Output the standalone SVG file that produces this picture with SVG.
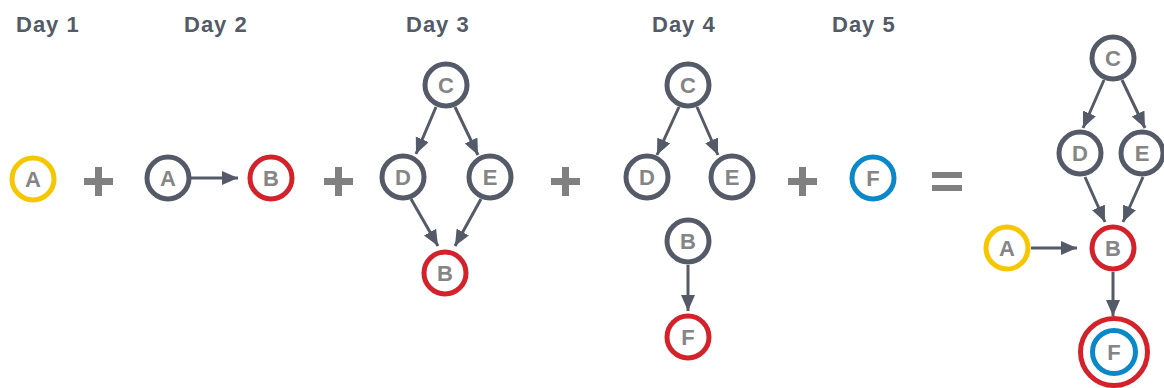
<svg xmlns="http://www.w3.org/2000/svg" width="1164" height="388" viewBox="0 0 1164 388">
<style>
.day{font-family:"Liberation Sans",Arial,sans-serif;font-weight:bold;font-size:22px;fill:#545a67;letter-spacing:1px}
.lbl{font-family:"Liberation Sans",Arial,sans-serif;font-weight:bold;font-size:22px;fill:#858585;text-anchor:middle;dominant-baseline:central}
.n{fill:#fff;stroke-width:5}
.dark{stroke:#545a67}
.red{stroke:#d3222a}
.yel{stroke:#f6c700}
.blu{stroke:#0a88ca}
.edge{stroke:#545a67;stroke-width:3;fill:none;marker-end:url(#ah)}
.op{fill:#808080}
</style>
<defs>
<marker id="ah" markerUnits="userSpaceOnUse" markerWidth="17" markerHeight="15" refX="16" refY="7" orient="auto">
<path d="M0,0 L16,7 L0,14 z" fill="#545a67"/>
</marker>
</defs>
<g id="labels">
<text class="day" x="16" y="32">Day 1</text>
<text class="day" x="184" y="32">Day 2</text>
<text class="day" x="406" y="32">Day 3</text>
<text class="day" x="652" y="32">Day 4</text>
<text class="day" x="832" y="32">Day 5</text>
</g>
<g id="operators">
<rect class="op" x="84" y="178" width="29" height="7"/><rect class="op" x="95" y="167" width="7" height="29"/>
<rect class="op" x="324" y="178" width="29" height="7"/><rect class="op" x="335" y="167" width="7" height="29"/>
<rect class="op" x="551" y="178" width="29" height="7"/><rect class="op" x="562" y="167" width="7" height="29"/>
<rect class="op" x="788" y="178" width="29" height="7"/><rect class="op" x="799" y="167" width="7" height="29"/>
<rect class="op" x="932" y="172" width="30" height="6"/><rect class="op" x="932" y="185" width="30" height="6"/>
</g>
<g id="connectors">
<line class="edge" x1="191" y1="178" x2="238" y2="178"/>
<line class="edge" x1="436" y1="107" x2="416" y2="154"/>
<line class="edge" x1="455" y1="107" x2="478" y2="155"/>
<line class="edge" x1="411" y1="199" x2="438" y2="246"/>
<line class="edge" x1="481" y1="199" x2="455" y2="246"/>
<line class="edge" x1="679" y1="107" x2="657" y2="155"/>
<line class="edge" x1="697" y1="107" x2="718" y2="155"/>
<line class="edge" x1="688" y1="265" x2="688" y2="311"/>
<line class="edge" x1="1104" y1="80" x2="1083" y2="128"/>
<line class="edge" x1="1122" y1="80" x2="1145" y2="128"/>
<line class="edge" x1="1085" y1="177" x2="1105" y2="222"/>
<line class="edge" x1="1143" y1="177" x2="1123" y2="222"/>
<line class="edge" x1="1031" y1="248" x2="1077" y2="248"/>
<line class="edge" x1="1113" y1="272" x2="1113" y2="316"/>
</g>
<g id="d1-A"><circle class="n yel" cx="33" cy="179" r="21"/><text class="lbl" x="33" y="179">A</text></g>
<g id="d2-A"><circle class="n dark" cx="168" cy="178" r="21"/><text class="lbl" x="168" y="178">A</text></g>
<g id="d2-B"><circle class="n red" cx="271" cy="178" r="21"/><text class="lbl" x="271" y="178">B</text></g>
<g id="d3-C"><circle class="n dark" cx="446" cy="85" r="21"/><text class="lbl" x="446" y="85">C</text></g>
<g id="d3-D"><circle class="n dark" cx="403" cy="177" r="21"/><text class="lbl" x="403" y="177">D</text></g>
<g id="d3-E"><circle class="n dark" cx="490" cy="177" r="21"/><text class="lbl" x="490" y="177">E</text></g>
<g id="d3-B"><circle class="n red" cx="445" cy="273" r="21"/><text class="lbl" x="445" y="273">B</text></g>
<g id="d4-C"><circle class="n dark" cx="688" cy="85" r="21"/><text class="lbl" x="688" y="85">C</text></g>
<g id="d4-D"><circle class="n dark" cx="647" cy="177" r="21"/><text class="lbl" x="647" y="177">D</text></g>
<g id="d4-E"><circle class="n dark" cx="732" cy="177" r="21"/><text class="lbl" x="732" y="177">E</text></g>
<g id="d4-B"><circle class="n dark" cx="688" cy="241" r="21"/><text class="lbl" x="688" y="241">B</text></g>
<g id="d4-F"><circle class="n red" cx="688" cy="337" r="21"/><text class="lbl" x="688" y="337">F</text></g>
<g id="d5-F"><circle class="n blu" cx="873" cy="178" r="21"/><text class="lbl" x="873" y="178">F</text></g>
<g id="r-C"><circle class="n dark" cx="1113" cy="58" r="21"/><text class="lbl" x="1113" y="58">C</text></g>
<g id="r-D"><circle class="n dark" cx="1080" cy="153" r="21"/><text class="lbl" x="1080" y="153">D</text></g>
<g id="r-E"><circle class="n dark" cx="1142" cy="153" r="21"/><text class="lbl" x="1142" y="153">E</text></g>
<g id="r-A"><circle class="n yel" cx="1007" cy="248" r="21"/><text class="lbl" x="1007" y="248">A</text></g>
<g id="r-B"><circle class="n red" cx="1113" cy="248" r="21"/><text class="lbl" x="1113" y="248">B</text></g>
<g id="r-F"><circle class="n red" cx="1114" cy="352" r="33.5"/><circle class="n blu" cx="1114" cy="352" r="21.5"/><text class="lbl" x="1114" y="352">F</text></g>
</svg>
